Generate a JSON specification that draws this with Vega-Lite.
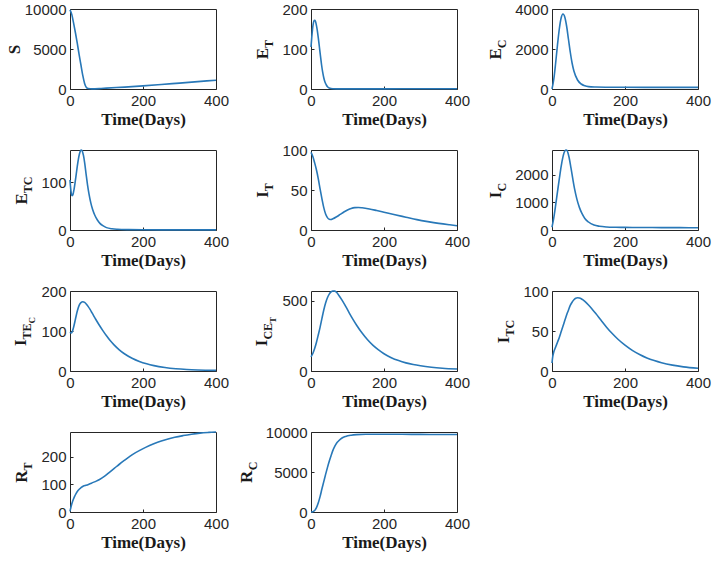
{
  "$schema": "https://vega.github.io/schema/vega-lite/v6.json",
  "background": "white",
  "padding": {"left": 4, "top": 1, "right": 5, "bottom": 5},
  "columns": 3,
  "bounds": "flush",
  "spacing": {"row": 61, "column": 95},
  "datasets": {
    "S": [{"t":0,"v":9900},{"t":5,"v":9300},{"t":10,"v":8200},{"t":15,"v":7000},{"t":20,"v":5700},{"t":25,"v":4300},{"t":30,"v":3000},{"t":35,"v":1700},{"t":40,"v":700},{"t":45,"v":200},{"t":50,"v":60},{"t":60,"v":20},{"t":80,"v":50},{"t":100,"v":110},{"t":150,"v":240},{"t":200,"v":390},{"t":250,"v":560},{"t":300,"v":740},{"t":350,"v":920},{"t":400,"v":1100}],
    "ET": [{"t":0,"v":105},{"t":2,"v":128},{"t":4,"v":148},{"t":6,"v":162},{"t":8,"v":170},{"t":10,"v":172},{"t":12,"v":170},{"t":14,"v":163},{"t":17,"v":148},{"t":20,"v":128},{"t":23,"v":105},{"t":26,"v":82},{"t":29,"v":60},{"t":32,"v":42},{"t":35,"v":28},{"t":38,"v":18},{"t":42,"v":10},{"t":46,"v":5},{"t":50,"v":2.5},{"t":60,"v":0.8},{"t":80,"v":0.3},{"t":150,"v":0.3},{"t":250,"v":0.5},{"t":400,"v":0.8}],
    "EC": [{"t":0,"v":0},{"t":5,"v":500},{"t":10,"v":1300},{"t":15,"v":2200},{"t":20,"v":3000},{"t":25,"v":3550},{"t":30,"v":3750},{"t":35,"v":3600},{"t":40,"v":3150},{"t":45,"v":2500},{"t":50,"v":1850},{"t":55,"v":1300},{"t":60,"v":900},{"t":70,"v":450},{"t":80,"v":250},{"t":90,"v":160},{"t":100,"v":120},{"t":120,"v":100},{"t":150,"v":90},{"t":200,"v":85},{"t":300,"v":80},{"t":400,"v":80}],
    "ETC": [{"t":0,"v":105},{"t":2,"v":86},{"t":4,"v":75},{"t":6,"v":72},{"t":8,"v":74},{"t":11,"v":85},{"t":14,"v":100},{"t":17,"v":117},{"t":20,"v":134},{"t":23,"v":149},{"t":26,"v":160},{"t":29,"v":167},{"t":31,"v":168},{"t":34,"v":165},{"t":37,"v":156},{"t":40,"v":142},{"t":44,"v":118},{"t":48,"v":95},{"t":52,"v":76},{"t":57,"v":57},{"t":62,"v":43},{"t":68,"v":31},{"t":75,"v":21},{"t":82,"v":14},{"t":90,"v":9},{"t":100,"v":5},{"t":115,"v":2.5},{"t":130,"v":1.5},{"t":160,"v":0.8},{"t":200,"v":0.5},{"t":300,"v":0.3},{"t":400,"v":0.2}],
    "IT": [{"t":0,"v":97},{"t":5,"v":92},{"t":10,"v":84},{"t":15,"v":75},{"t":20,"v":64},{"t":25,"v":51},{"t":30,"v":39},{"t":35,"v":28},{"t":40,"v":20},{"t":45,"v":15.5},{"t":50,"v":13.5},{"t":55,"v":13.2},{"t":60,"v":14},{"t":70,"v":16.5},{"t":80,"v":19.5},{"t":90,"v":22.5},{"t":100,"v":25},{"t":110,"v":27},{"t":120,"v":28},{"t":130,"v":28.2},{"t":140,"v":27.8},{"t":160,"v":26.3},{"t":180,"v":24.3},{"t":200,"v":22.2},{"t":230,"v":19},{"t":260,"v":16},{"t":290,"v":13},{"t":320,"v":10.5},{"t":350,"v":8.3},{"t":380,"v":6.5},{"t":400,"v":5.4}],
    "IC": [{"t":0,"v":100},{"t":5,"v":450},{"t":10,"v":900},{"t":15,"v":1380},{"t":20,"v":1850},{"t":25,"v":2300},{"t":30,"v":2650},{"t":35,"v":2860},{"t":39,"v":2900},{"t":43,"v":2830},{"t":47,"v":2620},{"t":52,"v":2250},{"t":57,"v":1850},{"t":62,"v":1480},{"t":68,"v":1130},{"t":75,"v":820},{"t":82,"v":600},{"t":90,"v":420},{"t":100,"v":290},{"t":115,"v":180},{"t":130,"v":135},{"t":150,"v":110},{"t":175,"v":100},{"t":200,"v":95},{"t":250,"v":90},{"t":300,"v":87},{"t":350,"v":85},{"t":400,"v":83}],
    "ITEC": [{"t":0,"v":97},{"t":3,"v":95},{"t":6,"v":98},{"t":10,"v":110},{"t":15,"v":130},{"t":20,"v":150},{"t":25,"v":164},{"t":30,"v":171},{"t":35,"v":173},{"t":40,"v":171.5},{"t":45,"v":167},{"t":50,"v":161},{"t":55,"v":154},{"t":60,"v":146},{"t":65,"v":138},{"t":70,"v":130},{"t":80,"v":115},{"t":90,"v":101},{"t":100,"v":88},{"t":110,"v":76},{"t":120,"v":66},{"t":135,"v":53},{"t":150,"v":42.5},{"t":170,"v":32},{"t":190,"v":24},{"t":210,"v":18},{"t":230,"v":13.5},{"t":260,"v":8.8},{"t":290,"v":5.7},{"t":320,"v":3.8},{"t":350,"v":2.6},{"t":400,"v":1.5}],
    "ICET": [{"t":0,"v":100},{"t":5,"v":125},{"t":10,"v":160},{"t":15,"v":205},{"t":20,"v":258},{"t":25,"v":313},{"t":30,"v":375},{"t":35,"v":435},{"t":40,"v":485},{"t":45,"v":522},{"t":50,"v":548},{"t":55,"v":563},{"t":60,"v":570},{"t":65,"v":569},{"t":70,"v":561},{"t":76,"v":540},{"t":85,"v":505},{"t":95,"v":460},{"t":105,"v":413},{"t":115,"v":368},{"t":125,"v":326},{"t":140,"v":270},{"t":155,"v":222},{"t":170,"v":182},{"t":185,"v":150},{"t":200,"v":123},{"t":220,"v":95},{"t":240,"v":74},{"t":260,"v":58},{"t":280,"v":46},{"t":300,"v":37},{"t":330,"v":27},{"t":360,"v":20},{"t":400,"v":14}],
    "ITC": [{"t":0,"v":10},{"t":2,"v":18},{"t":5,"v":24},{"t":10,"v":30},{"t":15,"v":36},{"t":20,"v":42},{"t":25,"v":49},{"t":30,"v":56},{"t":35,"v":63},{"t":40,"v":70},{"t":45,"v":76},{"t":50,"v":82},{"t":55,"v":86},{"t":60,"v":89},{"t":65,"v":91},{"t":70,"v":91.5},{"t":75,"v":91.2},{"t":80,"v":90.3},{"t":85,"v":88.8},{"t":90,"v":87},{"t":100,"v":82.5},{"t":110,"v":77.3},{"t":120,"v":71.8},{"t":135,"v":63},{"t":150,"v":54.5},{"t":165,"v":46.8},{"t":180,"v":40},{"t":200,"v":32.3},{"t":220,"v":25.8},{"t":240,"v":20.6},{"t":260,"v":16.3},{"t":280,"v":13},{"t":300,"v":10.3},{"t":330,"v":7.3},{"t":360,"v":5.2},{"t":400,"v":3.4}],
    "RT": [{"t":0,"v":2},{"t":3,"v":20},{"t":7,"v":38},{"t":12,"v":55},{"t":16.5,"v":67},{"t":22,"v":78},{"t":30,"v":88},{"t":37,"v":94},{"t":44,"v":97},{"t":52,"v":101},{"t":62,"v":106.5},{"t":72,"v":112},{"t":81,"v":118},{"t":95,"v":130},{"t":108,"v":144},{"t":122,"v":159},{"t":136,"v":174},{"t":150,"v":188},{"t":172,"v":209},{"t":195,"v":226},{"t":218,"v":241},{"t":240,"v":253},{"t":264,"v":263},{"t":287,"v":271},{"t":310,"v":277},{"t":333,"v":282},{"t":356,"v":286},{"t":380,"v":288.5},{"t":400,"v":290}],
    "RC": [{"t":0,"v":0},{"t":5,"v":40},{"t":10,"v":180},{"t":15,"v":550},{"t":20,"v":1150},{"t":25,"v":1950},{"t":30,"v":2900},{"t":35,"v":3800},{"t":40,"v":4700},{"t":45,"v":5550},{"t":50,"v":6350},{"t":55,"v":7050},{"t":60,"v":7700},{"t":65,"v":8200},{"t":70,"v":8600},{"t":76,"v":8900},{"t":85,"v":9250},{"t":95,"v":9450},{"t":110,"v":9600},{"t":125,"v":9670},{"t":150,"v":9710},{"t":200,"v":9720},{"t":250,"v":9710},{"t":300,"v":9700},{"t":350,"v":9690},{"t":400,"v":9680}]
  },
  "concat": [
    {
      "data": {"name": "S"}, "width": 146, "height": 80,
      "encoding": {"x": {"field": "t", "type": "quantitative", "scale": {"domain": [0, 400], "nice": false}, "axis": {"values": [0, 200, 400], "title": "Time(Days)"}}},
      "layer": [
        {"mark": {"type": "line", "color": "#2878B8", "strokeWidth": 1.6, "interpolate": "monotone"},
         "encoding": {"y": {"field": "v", "type": "quantitative", "scale": {"domain": [0, 10000], "nice": false}, "axis": {"orient": "left", "values": [0, 5000, 10000], "title": "S", "titleFontSize": 17, "titlePadding": 5}}}}
      ]
    },
    {
      "data": {"name": "ET"}, "width": 146, "height": 80,
      "encoding": {"x": {"field": "t", "type": "quantitative", "scale": {"domain": [0, 400], "nice": false}, "axis": {"values": [0, 200, 400], "title": "Time(Days)"}}},
      "layer": [
        {"mark": {"type": "line", "color": "#2878B8", "strokeWidth": 1.6, "interpolate": "monotone"},
         "encoding": {"y": {"field": "v", "type": "quantitative", "scale": {"domain": [0, 200], "nice": false}, "axis": {"orient": "left", "values": [0, 100, 200], "title": "E", "titleFontSize": 17, "titleAlign": "left", "titleY": 49.7, "titlePadding": 14}}}},
        {"mark": {"type": "line", "strokeOpacity": 0},
         "encoding": {"y": {"field": "v", "type": "quantitative", "scale": {"domain": [0, 200], "nice": false}, "axis": {"orient": "left", "values": [0, 100, 200], "labelOpacity": 0, "tickOpacity": 0, "title": "T", "titleFontSize": 12, "titleAlign": "left", "titleY": 38.4, "titlePadding": 9}}}}
      ],
      "resolve": {"axis": {"y": "independent"}}
    },
    {
      "data": {"name": "EC"}, "width": 146, "height": 80,
      "encoding": {"x": {"field": "t", "type": "quantitative", "scale": {"domain": [0, 400], "nice": false}, "axis": {"values": [0, 200, 400], "title": "Time(Days)"}}},
      "layer": [
        {"mark": {"type": "line", "color": "#2878B8", "strokeWidth": 1.6, "interpolate": "monotone"},
         "encoding": {"y": {"field": "v", "type": "quantitative", "scale": {"domain": [0, 4000], "nice": false}, "axis": {"orient": "left", "values": [0, 2000, 4000], "title": "E", "titleFontSize": 17, "titleAlign": "left", "titleY": 50, "titlePadding": 14}}}},
        {"mark": {"type": "line", "strokeOpacity": 0},
         "encoding": {"y": {"field": "v", "type": "quantitative", "scale": {"domain": [0, 4000], "nice": false}, "axis": {"orient": "left", "values": [0, 2000, 4000], "labelOpacity": 0, "tickOpacity": 0, "title": "C", "titleFontSize": 12, "titleAlign": "left", "titleY": 38.7, "titlePadding": 9}}}}
      ],
      "resolve": {"axis": {"y": "independent"}}
    },
    {
      "data": {"name": "ETC"}, "width": 146, "height": 80,
      "encoding": {"x": {"field": "t", "type": "quantitative", "scale": {"domain": [0, 400], "nice": false}, "axis": {"values": [0, 200, 400], "title": "Time(Days)"}}},
      "layer": [
        {"mark": {"type": "line", "color": "#2878B8", "strokeWidth": 1.6, "interpolate": "monotone"},
         "encoding": {"y": {"field": "v", "type": "quantitative", "scale": {"domain": [0, 168], "nice": false}, "axis": {"orient": "left", "values": [0, 100], "title": "E", "titleFontSize": 17, "titleAlign": "left", "titleY": 54, "titlePadding": 14}}}},
        {"mark": {"type": "line", "strokeOpacity": 0},
         "encoding": {"y": {"field": "v", "type": "quantitative", "scale": {"domain": [0, 168], "nice": false}, "axis": {"orient": "left", "values": [0, 100], "labelOpacity": 0, "tickOpacity": 0, "title": "TC", "titleFontSize": 12, "titleAlign": "left", "titleY": 42.7, "titlePadding": 9}}}}
      ],
      "resolve": {"axis": {"y": "independent"}}
    },
    {
      "data": {"name": "IT"}, "width": 146, "height": 80,
      "encoding": {"x": {"field": "t", "type": "quantitative", "scale": {"domain": [0, 400], "nice": false}, "axis": {"values": [0, 200, 400], "title": "Time(Days)"}}},
      "layer": [
        {"mark": {"type": "line", "color": "#2878B8", "strokeWidth": 1.6, "interpolate": "monotone"},
         "encoding": {"y": {"field": "v", "type": "quantitative", "scale": {"domain": [0, 100], "nice": false}, "axis": {"orient": "left", "values": [0, 50, 100], "title": "I", "titleFontSize": 17, "titleAlign": "left", "titleY": 47.3, "titlePadding": 14}}}},
        {"mark": {"type": "line", "strokeOpacity": 0},
         "encoding": {"y": {"field": "v", "type": "quantitative", "scale": {"domain": [0, 100], "nice": false}, "axis": {"orient": "left", "values": [0, 50, 100], "labelOpacity": 0, "tickOpacity": 0, "title": "T", "titleFontSize": 12, "titleAlign": "left", "titleY": 40.7, "titlePadding": 9}}}}
      ],
      "resolve": {"axis": {"y": "independent"}}
    },
    {
      "data": {"name": "IC"}, "width": 146, "height": 80,
      "encoding": {"x": {"field": "t", "type": "quantitative", "scale": {"domain": [0, 400], "nice": false}, "axis": {"values": [0, 200, 400], "title": "Time(Days)"}}},
      "layer": [
        {"mark": {"type": "line", "color": "#2878B8", "strokeWidth": 1.6, "interpolate": "monotone"},
         "encoding": {"y": {"field": "v", "type": "quantitative", "scale": {"domain": [0, 2900], "nice": false}, "axis": {"orient": "left", "values": [0, 1000, 2000], "title": "I", "titleFontSize": 17, "titleAlign": "left", "titleY": 47.7, "titlePadding": 14}}}},
        {"mark": {"type": "line", "strokeOpacity": 0},
         "encoding": {"y": {"field": "v", "type": "quantitative", "scale": {"domain": [0, 2900], "nice": false}, "axis": {"orient": "left", "values": [0, 1000, 2000], "labelOpacity": 0, "tickOpacity": 0, "title": "C", "titleFontSize": 12, "titleAlign": "left", "titleY": 41.1, "titlePadding": 9}}}}
      ],
      "resolve": {"axis": {"y": "independent"}}
    },
    {
      "data": {"name": "ITEC"}, "width": 146, "height": 80,
      "encoding": {"x": {"field": "t", "type": "quantitative", "scale": {"domain": [0, 400], "nice": false}, "axis": {"values": [0, 200, 400], "title": "Time(Days)"}}},
      "layer": [
        {"mark": {"type": "line", "color": "#2878B8", "strokeWidth": 1.6, "interpolate": "monotone"},
         "encoding": {"y": {"field": "v", "type": "quantitative", "scale": {"domain": [0, 200], "nice": false}, "axis": {"orient": "left", "values": [0, 100, 200], "title": "I", "titleFontSize": 17, "titleAlign": "left", "titleY": 54.6, "titlePadding": 15}}}},
        {"mark": {"type": "line", "strokeOpacity": 0},
         "encoding": {"y": {"field": "v", "type": "quantitative", "scale": {"domain": [0, 200], "nice": false}, "axis": {"orient": "left", "values": [0, 100, 200], "labelOpacity": 0, "tickOpacity": 0, "title": "TE", "titleFontSize": 12, "titleAlign": "left", "titleY": 48, "titlePadding": 10}}}},
        {"mark": {"type": "line", "strokeOpacity": 0},
         "encoding": {"y": {"field": "v", "type": "quantitative", "scale": {"domain": [0, 200], "nice": false}, "axis": {"orient": "left", "values": [0, 100, 200], "labelOpacity": 0, "tickOpacity": 0, "title": "C", "titleFontSize": 9, "titleAlign": "left", "titleY": 32, "titlePadding": 6}}}}
      ],
      "resolve": {"axis": {"y": "independent"}}
    },
    {
      "data": {"name": "ICET"}, "width": 146, "height": 80,
      "encoding": {"x": {"field": "t", "type": "quantitative", "scale": {"domain": [0, 400], "nice": false}, "axis": {"values": [0, 200, 400], "title": "Time(Days)"}}},
      "layer": [
        {"mark": {"type": "line", "color": "#2878B8", "strokeWidth": 1.6, "interpolate": "monotone"},
         "encoding": {"y": {"field": "v", "type": "quantitative", "scale": {"domain": [0, 570], "nice": false}, "axis": {"orient": "left", "values": [0, 500], "title": "I", "titleFontSize": 17, "titleAlign": "left", "titleY": 54.7, "titlePadding": 15}}}},
        {"mark": {"type": "line", "strokeOpacity": 0},
         "encoding": {"y": {"field": "v", "type": "quantitative", "scale": {"domain": [0, 570], "nice": false}, "axis": {"orient": "left", "values": [0, 500], "labelOpacity": 0, "tickOpacity": 0, "title": "CE", "titleFontSize": 12, "titleAlign": "left", "titleY": 48.1, "titlePadding": 10}}}},
        {"mark": {"type": "line", "strokeOpacity": 0},
         "encoding": {"y": {"field": "v", "type": "quantitative", "scale": {"domain": [0, 570], "nice": false}, "axis": {"orient": "left", "values": [0, 500], "labelOpacity": 0, "tickOpacity": 0, "title": "T", "titleFontSize": 9, "titleAlign": "left", "titleY": 31.4, "titlePadding": 6}}}}
      ],
      "resolve": {"axis": {"y": "independent"}}
    },
    {
      "data": {"name": "ITC"}, "width": 146, "height": 80,
      "encoding": {"x": {"field": "t", "type": "quantitative", "scale": {"domain": [0, 400], "nice": false}, "axis": {"values": [0, 200, 400], "title": "Time(Days)"}}},
      "layer": [
        {"mark": {"type": "line", "color": "#2878B8", "strokeWidth": 1.6, "interpolate": "monotone"},
         "encoding": {"y": {"field": "v", "type": "quantitative", "scale": {"domain": [0, 100], "nice": false}, "axis": {"orient": "left", "values": [0, 50, 100], "title": "I", "titleFontSize": 17, "titleAlign": "left", "titleY": 51.7, "titlePadding": 14}}}},
        {"mark": {"type": "line", "strokeOpacity": 0},
         "encoding": {"y": {"field": "v", "type": "quantitative", "scale": {"domain": [0, 100], "nice": false}, "axis": {"orient": "left", "values": [0, 50, 100], "labelOpacity": 0, "tickOpacity": 0, "title": "TC", "titleFontSize": 12, "titleAlign": "left", "titleY": 45.1, "titlePadding": 9}}}}
      ],
      "resolve": {"axis": {"y": "independent"}}
    },
    {
      "data": {"name": "RT"}, "width": 146, "height": 80,
      "encoding": {"x": {"field": "t", "type": "quantitative", "scale": {"domain": [0, 400], "nice": false}, "axis": {"values": [0, 200, 400], "title": "Time(Days)"}}},
      "layer": [
        {"mark": {"type": "line", "color": "#2878B8", "strokeWidth": 1.6, "interpolate": "monotone"},
         "encoding": {"y": {"field": "v", "type": "quantitative", "scale": {"domain": [0, 290], "nice": false}, "axis": {"orient": "left", "values": [0, 100, 200], "title": "R", "titleFontSize": 17, "titleAlign": "left", "titleY": 50.2, "titlePadding": 14}}}},
        {"mark": {"type": "line", "strokeOpacity": 0},
         "encoding": {"y": {"field": "v", "type": "quantitative", "scale": {"domain": [0, 290], "nice": false}, "axis": {"orient": "left", "values": [0, 100, 200], "labelOpacity": 0, "tickOpacity": 0, "title": "T", "titleFontSize": 12, "titleAlign": "left", "titleY": 37.9, "titlePadding": 9}}}}
      ],
      "resolve": {"axis": {"y": "independent"}}
    },
    {
      "data": {"name": "RC"}, "width": 146, "height": 80,
      "encoding": {"x": {"field": "t", "type": "quantitative", "scale": {"domain": [0, 400], "nice": false}, "axis": {"values": [0, 200, 400], "title": "Time(Days)"}}},
      "layer": [
        {"mark": {"type": "line", "color": "#2878B8", "strokeWidth": 1.6, "interpolate": "monotone"},
         "encoding": {"y": {"field": "v", "type": "quantitative", "scale": {"domain": [0, 10000], "nice": false}, "axis": {"orient": "left", "values": [0, 5000, 10000], "title": "R", "titleFontSize": 17, "titleAlign": "left", "titleY": 50.5, "titlePadding": 14}}}},
        {"mark": {"type": "line", "strokeOpacity": 0},
         "encoding": {"y": {"field": "v", "type": "quantitative", "scale": {"domain": [0, 10000], "nice": false}, "axis": {"orient": "left", "values": [0, 5000, 10000], "labelOpacity": 0, "tickOpacity": 0, "title": "C", "titleFontSize": 12, "titleAlign": "left", "titleY": 37.8, "titlePadding": 9}}}}
      ],
      "resolve": {"axis": {"y": "independent"}}
    }
  ],
  "config": {
    "numberFormat": "d",
    "view": {"stroke": "#262626", "strokeWidth": 1},
    "axis": {
      "grid": false,
      "domain": false,
      "labelFont": "Liberation Sans",
      "labelFontSize": 15,
      "labelColor": "#262626",
      "labelFlush": false,
      "labelOverlap": false,
      "labelPadding": 7,
      "tickSize": -3,
      "tickColor": "#262626",
      "titleFont": "Liberation Serif",
      "titleFontWeight": "bold",
      "titleFontSize": 17,
      "titleColor": "#1a1a1a",
      "titlePadding": 3
    },
    "axisY": {"titleBaseline": "alphabetic"},
    "axisX": {"titleBaseline": "top", "titlePadding": 3}
  }
}
